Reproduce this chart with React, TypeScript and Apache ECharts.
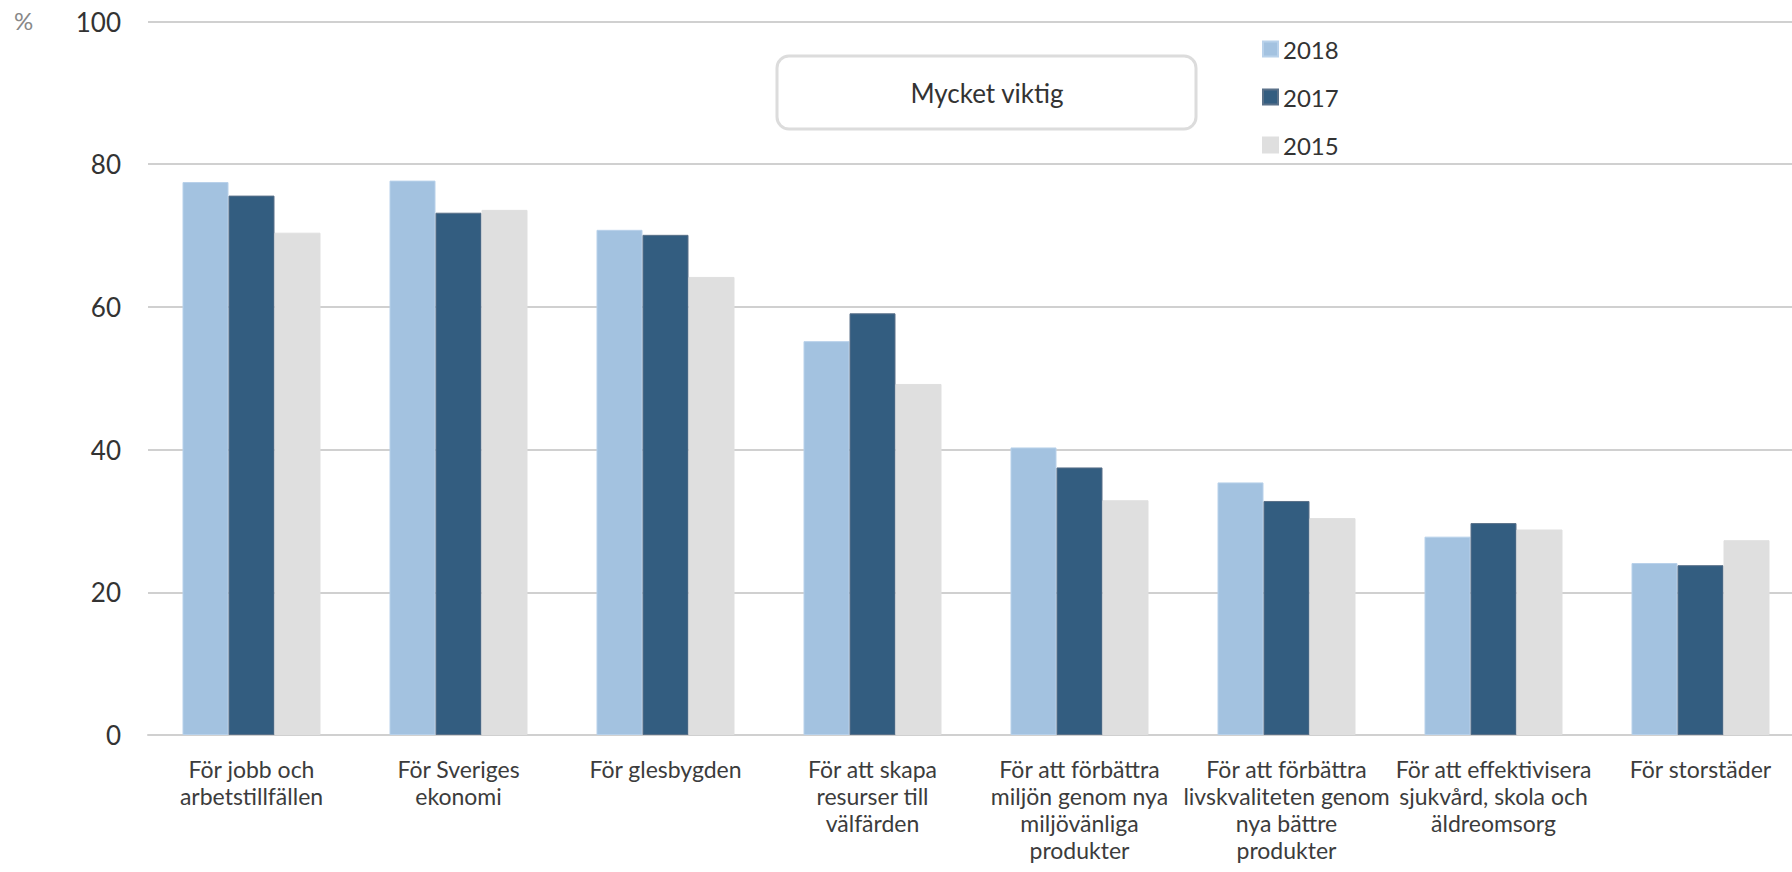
import React, { useEffect, useRef } from "react";
import * as echarts from "echarts";

const categories = [
  "För jobb och\narbetstillfällen",
  "För Sveriges\nekonomi",
  "För glesbygden",
  "För att skapa\nresurser till\nvälfärden",
  "För att förbättra\nmiljön genom nya\nmiljövänliga\nprodukter",
  "För att förbättra\nlivskvaliteten genom\nnya bättre\nprodukter",
  "För att effektivisera\nsjukvård, skola och\näldreomsorg",
  "För storstäder",
];

const values2018 = [77.5, 77.7, 70.8, 55.2, 40.3, 35.4, 27.8, 24.1];
const values2017 = [75.6, 73.2, 70.1, 59.1, 37.5, 32.8, 29.7, 23.8];
const values2015 = [70.4, 73.6, 64.2, 49.2, 32.9, 30.4, 28.8, 27.3];

const seriesNames = ["2018", "2017", "2015"];
const boxTitle = "Mycket viktig";
const unitLabel = "%";

const FONT = "Lato, 'Open Sans', sans-serif";

export default function App() {
  const ref = useRef<HTMLDivElement>(null);

  useEffect(() => {
    document.body.style.margin = "0";
    if (!ref.current) return;
    const chart = echarts.init(ref.current, null, { renderer: "svg" });
    const colors = ["#A3C2E0", "#335D80", "#DFDFDF"];
    const borders = ["#B8D1EA", "#5A7189", "#DFDFDF"];
    const data = [values2018, values2017, values2015];

    chart.setOption({
      animation: false,
      textStyle: { fontFamily: FONT },
      grid: {
        left: 148,
        right: -12,
        top: 21.5,
        bottom: 137,
        containLabel: false,
        outerBoundsMode: "none",
      },
      legend: {
        orient: "vertical",
        left: 1257,
        top: 32,
        itemWidth: 15,
        itemHeight: 15,
        itemGap: 24,
        icon: "rect",
        data: seriesNames,
        textStyle: { fontSize: 24, lineHeight: 24, color: "#333333", fontFamily: FONT },
      },
      xAxis: {
        type: "category",
        data: categories,
        axisLine: { show: true, lineStyle: { color: "#D0D0D0", width: 2 } },
        axisTick: { show: false },
        axisLabel: {
          interval: 0,
          fontSize: 23,
          lineHeight: 27,
          color: "#3C3C3C",
          margin: 20,
          fontFamily: FONT,
        },
      },
      yAxis: {
        type: "value",
        min: 0,
        max: 100,
        interval: 20,
        axisLine: { show: false },
        axisTick: { show: false },
        splitLine: { lineStyle: { color: "#D0D0D0", width: 2 } },
        axisLabel: { fontSize: 26, color: "#333333", margin: 27, fontFamily: FONT },
      },
      series: seriesNames.map((name, i) => ({
        name,
        type: "bar",
        data: data[i],
        barWidth: 46,
        barGap: "0%",
        itemStyle: { color: colors[i], borderColor: borders[i], borderWidth: 1 },
      })),
      graphic: [
        {
          type: "rect",
          shape: { x: 777, y: 56, width: 419, height: 73, r: 12 },
          style: { fill: "#FFFFFF", stroke: "#DCDCDC", lineWidth: 3 },
          z: 10,
        },
        {
          type: "text",
          x: 987,
          y: 93,
          style: {
            text: boxTitle,
            fontSize: 26,
            fill: "#333333",
            fontFamily: FONT,
            align: "center",
            verticalAlign: "middle",
          },
          z: 11,
        },
        {
          type: "text",
          x: 14,
          y: 8,
          style: { text: unitLabel, fontSize: 24, fill: "#888888", fontFamily: FONT },
        },
      ],
    });
    return () => chart.dispose();
  }, []);

  return <div ref={ref} style={{ width: 1792, height: 872 }} />;
}
